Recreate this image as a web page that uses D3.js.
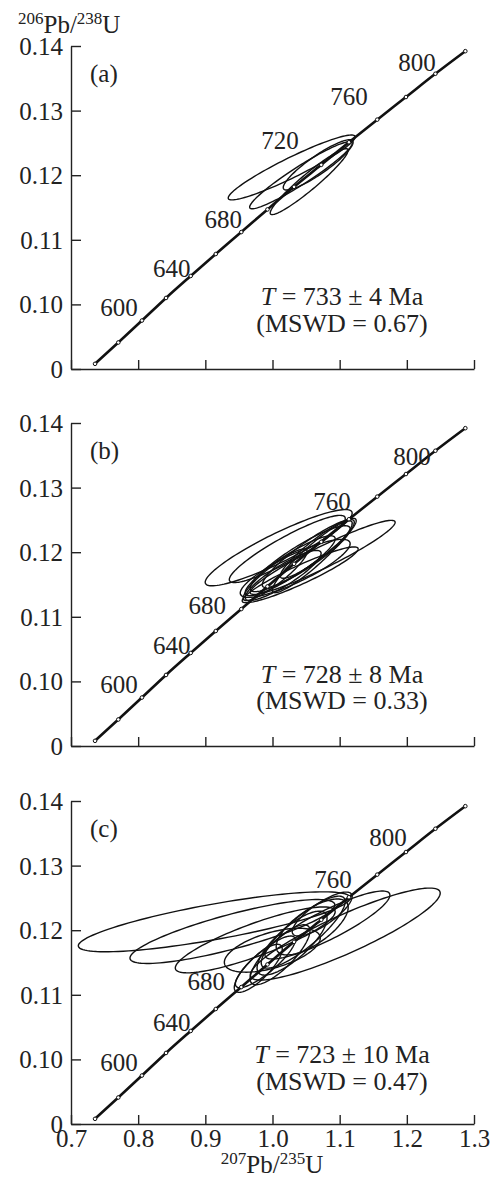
<!DOCTYPE html>
<html lang="en">
<head>
<meta charset="utf-8" />
<title>Concordia diagrams</title>
<script src="https://d3js.org/d3.v7.min.js"></script>
<style>
  html, body { margin: 0; padding: 0; background: #fff; }
  svg { display: block; font-family: "Liberation Serif", "DejaVu Serif", serif; }
  text { fill: #222; }
</style>
</head>
<body>
<div id="chart"></div>
<script>
// concordia points every 20 Ma
const concordiaAge = [560, 580, 600, 620, 640, 660, 680, 700, 720, 740, 760, 780, 800, 820, 840];
const concordiaX = [0.7358, 0.7704, 0.8056, 0.8415, 0.8782, 0.9155, 0.9536, 0.9925, 1.0321, 1.0726, 1.1138, 1.1559, 1.1987, 1.2425, 1.2871];
const concordiaY = [0.0908, 0.0941, 0.0975, 0.1010, 0.1044, 0.1078, 0.1112, 0.1147, 0.1182, 0.1216, 0.1251, 0.1286, 0.1321, 0.1357, 0.1392];

// axes
const xTicks = [0.7, 0.8, 0.9, 1.0, 1.1, 1.2, 1.3];
const xTickLabels = ["0.7", "0.8", "0.9", "1.0", "1.1", "1.2", "1.3"];
const yTicks = [0.09, 0.10, 0.11, 0.12, 0.13, 0.14];
const yTickLabels = ["0", "0.10", "0.11", "0.12", "0.13", "0.14"];

const panelLetters = ["(a)", "(b)", "(c)"];
const ageValues = ["733 ± 4", "728 ± 8", "723 ± 10"];
const mswdValues = ["0.67", "0.33", "0.47"];
const ageLabelsA = [600, 640, 680, 720, 760, 800];
const ageLabelsB = [600, 640, 680, 760, 800];
const ageLabelsC = [600, 640, 680, 760, 800];

// error ellipses: centre, half extents, correlation
const ellA_x = [1.0286, 1.0423, 1.0546, 1.068];
const ellA_y = [0.1212, 0.1200, 0.1190, 0.1216];
const ellA_sx = [0.0945, 0.0763, 0.058, 0.052];
const ellA_sy = [0.00502, 0.0052, 0.0051, 0.0039];
const ellA_rho = [0.94, 0.95, 0.95, 0.9];

const ellB_x = [1.0092, 1.0220, 1.0412, 1.0747, 1.0263, 1.0412, 1.0159, 1.0533, 1.0338, 1.0592, 1.0040, 1.0681];
const ellB_y = [0.1207, 0.1205, 0.1165, 0.1192, 0.1179, 0.1190, 0.1164, 0.1198, 0.1175, 0.1193, 0.1165, 0.1206];
const ellB_sx = [0.1094, 0.0863, 0.0863, 0.1079, 0.067, 0.0744, 0.0565, 0.0685, 0.0818, 0.0595, 0.0476, 0.0565];
const ellB_sy = [0.0059, 0.0052, 0.00432, 0.00573, 0.00464, 0.0051, 0.00387, 0.00526, 0.00449, 0.00557, 0.0040, 0.00464];
const ellB_rho = [0.907, 0.91, 0.93, 0.946, 0.9, 0.9, 0.88, 0.92, 0.85, 0.93, 0.9, 0.92];

const ellC_x = [0.9133, 1.1083, 1.0818, 0.9403, 0.9743, 1.0112, 1.0291, 0.9788, 1.0457, 1.0591, 0.9997, 1.0740, 0.9893];
const ellC_y = [0.1213, 0.1194, 0.1208, 0.1198, 0.1185, 0.1162, 0.1180, 0.1141, 0.1197, 0.1205, 0.1169, 0.1225, 0.1151];
const ellC_sx = [0.2024, 0.1414, 0.093, 0.1525, 0.119, 0.0446, 0.0521, 0.0357, 0.0625, 0.0536, 0.0714, 0.0446, 0.0446];
const ellC_sy = [0.00464, 0.00712, 0.00526, 0.00495, 0.0051, 0.00464, 0.00495, 0.00372, 0.00557, 0.00433, 0.0034, 0.0034, 0.004];
const ellC_rho = [0.8, 0.89, 0.88, 0.83, 0.85, 0.8, 0.78, 0.8, 0.85, 0.7, 0.55, 0.8, 0.85];

// layout
const width = 495, height = 1178;
const panelTop = [46, 423, 801];
const panelH = 323;
const xLeft = 71, xRight = 474;
// label offsets from the concordia point (px): [dx of centre, dy of baseline]
const labelOffsets = [
  {600: [-23, -5], 640: [-19, 1], 680: [-18, -4], 720: [-14, -38], 760: [0, -37], 800: [11, -26]},
  {600: [-23, -5], 640: [-19, 1], 680: [-34, 5], 760: [-17, -9], 800: [6, -9]},
  {600: [-23, -5], 640: [-19, 0], 680: [-35, 3], 760: [-16, -9], 800: [-18, -6]}
];
const noteBase = [[259, 286], [260, 286], [262, 289]];

const ellipses = [
  {x: ellA_x, y: ellA_y, sx: ellA_sx, sy: ellA_sy, rho: ellA_rho},
  {x: ellB_x, y: ellB_y, sx: ellB_sx, sy: ellB_sy, rho: ellB_rho},
  {x: ellC_x, y: ellC_y, sx: ellC_sx, sy: ellC_sy, rho: ellC_rho}
];
const ageLabels = [ageLabelsA, ageLabelsB, ageLabelsC];

const svg = d3.select("#chart").append("svg")
  .attr("width", width)
  .attr("height", height);

const x = d3.scaleLinear().domain([0.7, 1.3]).range([xLeft, xRight]);

function ellipsePoints(cx, cy, sx, sy, r) {
  return d3.range(0, 361, 3).map(a => {
    const t = a * Math.PI / 180;
    return [cx + sx * Math.cos(t), cy + sy * (r * Math.cos(t) + Math.sqrt(1 - r * r) * Math.sin(t))];
  });
}

panelTop.forEach((top, p) => {
  const y = d3.scaleLinear().domain([0.09, 0.14]).range([top + panelH, top]);
  const g = svg.append("g");

  // y axis, ticks pointing inward
  const yAxis = d3.axisLeft(y)
    .tickValues(yTicks)
    .tickSizeInner(-10)
    .tickSizeOuter(0)
    .tickPadding(8)
    .tickFormat((d, i) => yTickLabels[i]);
  const gy = g.append("g")
    .attr("transform", `translate(${xLeft},0)`)
    .call(yAxis);

  // x axis
  const xAxis = d3.axisBottom(x)
    .tickValues(xTicks)
    .tickSizeInner(-9)
    .tickSizeOuter(0)
    .tickPadding(6)
    .tickFormat((d, i) => p === 2 ? xTickLabels[i] : "");
  const gx = g.append("g")
    .attr("transform", `translate(0,${top + panelH})`)
    .call(xAxis);

  [gx, gy].forEach(ax => {
    ax.selectAll("path, line").attr("stroke", "#222").attr("stroke-width", 1.4);
    ax.selectAll("text")
      .attr("font-family", "Liberation Serif")
      .attr("font-size", 25)
      .attr("fill", "#222");
  });
  gy.selectAll("text").attr("dy", "0.34em");
  gx.selectAll("text").attr("dy", "0.68em");

  // error ellipses
  const e = ellipses[p];
  const ell = d3.line().x(d => x(d[0])).y(d => y(d[1]));
  e.x.forEach((cx, i) => {
    g.append("path")
      .attr("d", ell(ellipsePoints(cx, e.y[i], e.sx[i], e.sy[i], e.rho[i])) + "Z")
      .attr("fill", "none")
      .attr("stroke", "#111")
      .attr("stroke-width", 1.4);
  });

  // concordia
  const cPts = concordiaX.map((cx, i) => [cx, concordiaY[i]]);
  g.append("path")
    .attr("d", d3.line().x(d => x(d[0])).y(d => y(d[1])).curve(d3.curveMonotoneX)(cPts))
    .attr("fill", "none")
    .attr("stroke", "#111")
    .attr("stroke-width", 2.6);
  g.selectAll(".tick-dot")
    .data(cPts)
    .enter()
    .append("circle")
    .attr("cx", d => x(d[0]))
    .attr("cy", d => y(d[1]))
    .attr("r", 1.8)
    .attr("fill", "#fff")
    .attr("stroke", "#111")
    .attr("stroke-width", 1);

  // age labels along concordia
  ageLabels[p].forEach(age => {
    const i = concordiaAge.indexOf(age);
    const off = labelOffsets[p][age];
    g.append("text")
      .attr("x", x(concordiaX[i]) + off[0])
      .attr("y", y(concordiaY[i]) + off[1])
      .attr("text-anchor", "middle")
      .attr("font-size", 25)
      .text(age);
  });

  // panel letter
  g.append("text")
    .attr("x", 90)
    .attr("y", top + 36)
    .attr("font-size", 25)
    .text(panelLetters[p]);

  // result annotation
  const t1 = g.append("text")
    .attr("x", 342)
    .attr("y", top + noteBase[p][0])
    .attr("text-anchor", "middle")
    .attr("font-size", 26);
  t1.append("tspan").attr("font-style", "italic").text("T");
  t1.append("tspan").text(" = " + ageValues[p] + " Ma");
  g.append("text")
    .attr("x", 342)
    .attr("y", top + noteBase[p][1])
    .attr("text-anchor", "middle")
    .attr("font-size", 26)
    .text("(MSWD = " + mswdValues[p] + ")");
});

// axis titles
const yTitle = svg.append("text")
  .attr("x", 18)
  .attr("y", 33)
  .attr("font-size", 25);
yTitle.append("tspan").attr("font-size", 17).attr("dy", -9).text("206");
yTitle.append("tspan").attr("dy", 9).text("Pb/");
yTitle.append("tspan").attr("font-size", 17).attr("dy", -9).text("238");
yTitle.append("tspan").attr("dy", 9).text("U");

const xTitle = svg.append("text")
  .attr("x", 272)
  .attr("y", 1173)
  .attr("text-anchor", "middle")
  .attr("font-size", 25);
xTitle.append("tspan").attr("font-size", 17).attr("dy", -9).text("207");
xTitle.append("tspan").attr("dy", 9).text("Pb/");
xTitle.append("tspan").attr("font-size", 17).attr("dy", -9).text("235");
xTitle.append("tspan").attr("dy", 9).text("U");
</script>
</body>
</html>
